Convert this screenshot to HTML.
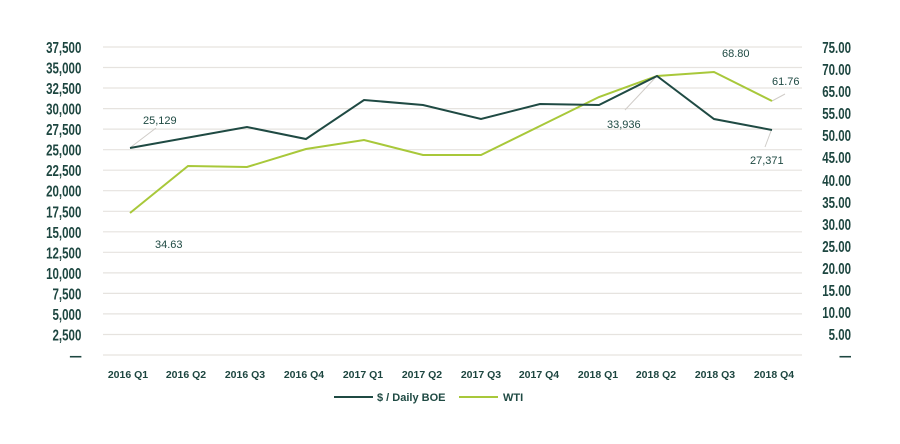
<!DOCTYPE html>
<html><head><style>
html,body{margin:0;padding:0;background:#fff;}
svg text{font-family:"Liberation Sans",sans-serif;}
</style></head><body>
<svg width="900" height="439" viewBox="0 0 900 439" xmlns="http://www.w3.org/2000/svg">
<g stroke="#e6e3df" stroke-width="1.2">
<line x1="103" x2="802" y1="47" y2="47"/><line x1="103" x2="802" y1="67.5" y2="67.5"/>
<line x1="103" x2="802" y1="88" y2="88"/><line x1="103" x2="802" y1="108.6" y2="108.6"/>
<line x1="103" x2="802" y1="129.1" y2="129.1"/><line x1="103" x2="802" y1="149.7" y2="149.7"/>
<line x1="103" x2="802" y1="170.2" y2="170.2"/><line x1="103" x2="802" y1="190.7" y2="190.7"/>
<line x1="103" x2="802" y1="211.3" y2="211.3"/><line x1="103" x2="802" y1="231.8" y2="231.8"/>
<line x1="103" x2="802" y1="252.3" y2="252.3"/><line x1="103" x2="802" y1="272.9" y2="272.9"/>
<line x1="103" x2="802" y1="293.4" y2="293.4"/><line x1="103" x2="802" y1="313.9" y2="313.9"/>
<line x1="103" x2="802" y1="334.5" y2="334.5"/><line x1="103" x2="802" y1="355" y2="355"/>
</g>
<g fill="#1d4640" font-size="16" font-weight="bold" text-anchor="end" transform="scale(0.72,1)">
<text x="113" y="53">37,500</text><text x="113" y="73.5">35,000</text><text x="113" y="94">32,500</text>
<text x="113" y="114.6">30,000</text><text x="113" y="135.1">27,500</text><text x="113" y="155.7">25,000</text>
<text x="113" y="176.2">22,500</text><text x="113" y="196.7">20,000</text><text x="113" y="217.3">17,500</text>
<text x="113" y="237.8">15,000</text><text x="113" y="258.3">12,500</text><text x="113" y="278.9">10,000</text>
<text x="113" y="299.4">7,500</text><text x="113" y="319.9">5,000</text><text x="113" y="340.5">2,500</text>
<text x="113" y="361">—</text>
<text x="1182" y="53">75.00</text><text x="1182" y="75">70.00</text><text x="1182" y="97">65.00</text>
<text x="1182" y="119">55.00</text><text x="1182" y="141">50.00</text><text x="1182" y="163">45.00</text>
<text x="1182" y="186">40.00</text><text x="1182" y="208">35.00</text><text x="1182" y="230">30.00</text>
<text x="1182" y="252">25.00</text><text x="1182" y="274">20.00</text><text x="1182" y="296">15.00</text>
<text x="1182" y="318">10.00</text><text x="1182" y="340">5.00</text>
<text x="1182" y="361">—</text>
</g>
<g fill="#1d4640" font-size="10.5" font-weight="bold" text-anchor="middle">
<text x="128" y="378">2016 Q1</text><text x="186" y="378">2016 Q2</text><text x="245" y="378">2016 Q3</text>
<text x="304" y="378">2016 Q4</text><text x="363" y="378">2017 Q1</text><text x="422" y="378">2017 Q2</text>
<text x="481" y="378">2017 Q3</text><text x="539" y="378">2017 Q4</text><text x="598" y="378">2018 Q1</text>
<text x="656" y="378">2018 Q2</text><text x="715" y="378">2018 Q3</text><text x="774" y="378">2018 Q4</text>
</g>
<g stroke="#d0ccc8" stroke-width="1">
<line x1="131" y1="147" x2="156" y2="128"/>
<line x1="655" y1="78" x2="625" y2="110"/>
<line x1="772" y1="101" x2="785" y2="94"/>
<line x1="771" y1="131" x2="765" y2="147"/>
</g>
<polyline fill="none" stroke="#a8c83a" stroke-width="2" points="130,213 188,166 247,167 306,149 364,140 423,155 481,155 540,126 599,97 657,76 714,72 772,101"/>
<polyline fill="none" stroke="#1f4a43" stroke-width="2" points="130,148 247,127 306,139 364,100 423,105 481,119 540,104 599,105 657,76 714,119 772,130"/>
<g fill="#1f4a43" font-size="11">
<text x="143" y="124">25,129</text>
<text x="155" y="248">34.63</text>
<text x="607" y="128">33,936</text>
<text x="722" y="57">68.80</text>
<text x="772" y="85">61.76</text>
<text x="750" y="164">27,371</text>
</g>
<line x1="334" y1="397" x2="373" y2="397" stroke="#1f4a43" stroke-width="2"/>
<text x="377" y="401" fill="#1f4a43" font-size="11" font-weight="bold">$ / Daily BOE</text>
<line x1="459" y1="397" x2="498" y2="397" stroke="#a8c83a" stroke-width="2"/>
<text x="503" y="401" fill="#1f4a43" font-size="11" font-weight="bold">WTI</text>
</svg>
</body></html>
